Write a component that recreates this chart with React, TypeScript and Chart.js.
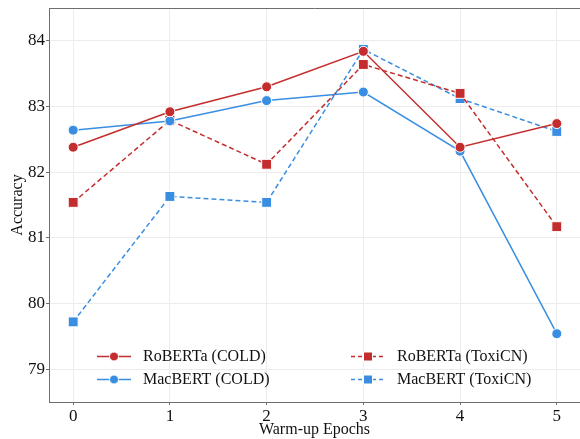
import React, { useEffect, useRef } from "react";
import { Chart, registerables } from "chart.js";

Chart.register(...registerables);

const epochs = [0, 1, 2, 3, 4, 5];
const yTicks = [79, 80, 81, 82, 83, 84];
const robertaCold = [82.38, 82.92, 83.3, 83.84, 82.38, 82.74];
const macbertCold = [82.64, 82.78, 83.09, 83.22, 82.32, 79.54];
const robertaToxi = [81.54, 82.79, 82.12, 83.64, 83.2, 81.17];
const macbertToxi = [79.72, 81.63, 81.54, 83.87, 83.12, 82.62];
const seriesNames = ["RoBERTa (COLD)", "MacBERT (COLD)", "RoBERTa (ToxiCN)", "MacBERT (ToxiCN)"];

const RED = "#c42d2d";
const BLUE = "#3a8ee2";
const FONT = "'Liberation Serif', 'DejaVu Serif', serif";

export default function App() {
  const ref = useRef<HTMLCanvasElement | null>(null);
  useEffect(() => {
    if (!ref.current) return;
    const mk = (vals: number[]) => vals.map((v, i) => ({ x: epochs[i], y: v }));
    const specs = [
      { vals: robertaCold, color: RED, dash: [] as number[], style: "circle", r: 5 },
      { vals: macbertCold, color: BLUE, dash: [] as number[], style: "circle", r: 5 },
      { vals: robertaToxi, color: RED, dash: [5, 3], style: "rect", r: 7 },
      { vals: macbertToxi, color: BLUE, dash: [5, 3], style: "rect", r: 7 },
    ];
    const datasets = specs.map((s, i) => ({
      label: seriesNames[i],
      data: mk(s.vals),
      borderColor: s.color,
      backgroundColor: s.color,
      borderWidth: 1.5,
      borderDash: s.dash,
      pointStyle: s.style,
      pointRadius: s.r,
      pointBorderColor: "#ffffff",
      pointBorderWidth: 1,
      pointBackgroundColor: s.color,
      tension: 0,
      clip: false,
    }));

    const frame = {
      id: "frame",
      afterDraw(chart: any) {
        const { ctx, chartArea } = chart;
        ctx.save();
        ctx.strokeStyle = "#6e6e6e";
        ctx.lineWidth = 1;
        ctx.beginPath();
        ctx.moveTo(chartArea.left, chartArea.top + 0.5);
        ctx.lineTo(chartArea.right, chartArea.top + 0.5);
        ctx.stroke();
        // legend
        const cols = [97, 351];
        const rows = [356.5, 379.5];
        ctx.font = `16px ${FONT}`;
        ctx.textBaseline = "middle";
        ctx.fillStyle = "#111";
        const order = [0, 2, 1, 3];
        order.forEach((di, k) => {
          const s = specs[di];
          const x0 = cols[k % 2];
          const y = rows[Math.floor(k / 2)];
          ctx.save();
          ctx.strokeStyle = s.color;
          ctx.lineWidth = 1.5;
          ctx.setLineDash(s.dash.length ? [4, 3] : []);
          ctx.beginPath();
          ctx.moveTo(x0, y);
          ctx.lineTo(x0 + 34, y);
          ctx.stroke();
          ctx.setLineDash([]);
          ctx.fillStyle = s.color;
          ctx.strokeStyle = "#fff";
          ctx.lineWidth = 1;
          const cx = x0 + 17;
          if (s.style === "circle") {
            ctx.beginPath();
            ctx.arc(cx, y, 4.5, 0, Math.PI * 2);
            ctx.fill();
            ctx.stroke();
          } else {
            ctx.fillRect(cx - 4.5, y - 4.5, 9, 9);
            ctx.strokeRect(cx - 4.5, y - 4.5, 9, 9);
          }
          ctx.restore();
          ctx.fillStyle = "#111";
          ctx.fillText(seriesNames[di], x0 + 46, y);
        });
        ctx.restore();
      },
    };

    const chart = new Chart(ref.current, {
      type: "line",
      data: { datasets: datasets as any },
      options: {
        animation: false,
        responsive: false,
        maintainAspectRatio: false,
        layout: { autoPadding: false, padding: { top: 8, right: 0, left: 0, bottom: 0 } },
        plugins: { legend: { display: false }, tooltip: { enabled: false } },
        scales: {
          x: {
            type: "linear",
            min: -0.25,
            max: 5.24,
            afterBuildTicks: (s: any) => { s.ticks = epochs.map((v) => ({ value: v })); },
            afterFit: (s: any) => { s.height = 37; s.paddingLeft = 0; s.paddingRight = 0; },
            ticks: { color: "#111", font: { family: FONT, size: 17 }, padding: 1 },
            grid: { color: "#ececec", tickColor: "#6e6e6e", tickLength: 3 },
            border: { color: "#6e6e6e", width: 1 },
            title: { display: true, text: "Warm-up Epochs", color: "#111", font: { family: FONT, size: 16 }, padding: { top: 0, bottom: 0 } },
          },
          y: {
            min: 78.5,
            max: 84.5,
            afterBuildTicks: (s: any) => { s.ticks = yTicks.map((v) => ({ value: v })); },
            afterFit: (s: any) => { s.width = 49; s.paddingTop = 0; s.paddingBottom = 0; },
            ticks: { color: "#111", font: { family: FONT, size: 17 }, padding: 1 },
            grid: { color: "#ececec", tickColor: "#6e6e6e", tickLength: 3 },
            border: { color: "#6e6e6e", width: 1 },
            title: { display: true, text: "Accuracy", color: "#111", font: { family: FONT, size: 16 }, padding: { top: 8, bottom: 0 } },
          },
        },
      },
      plugins: [frame],
    });
    return () => chart.destroy();
  }, []);
  return (
    <div style={{ position: "fixed", left: 0, top: 0, width: 580, height: 439, background: "#fff" }}>
      <canvas ref={ref} width={580} height={439} style={{ display: "block" }} />
    </div>
  );
}
